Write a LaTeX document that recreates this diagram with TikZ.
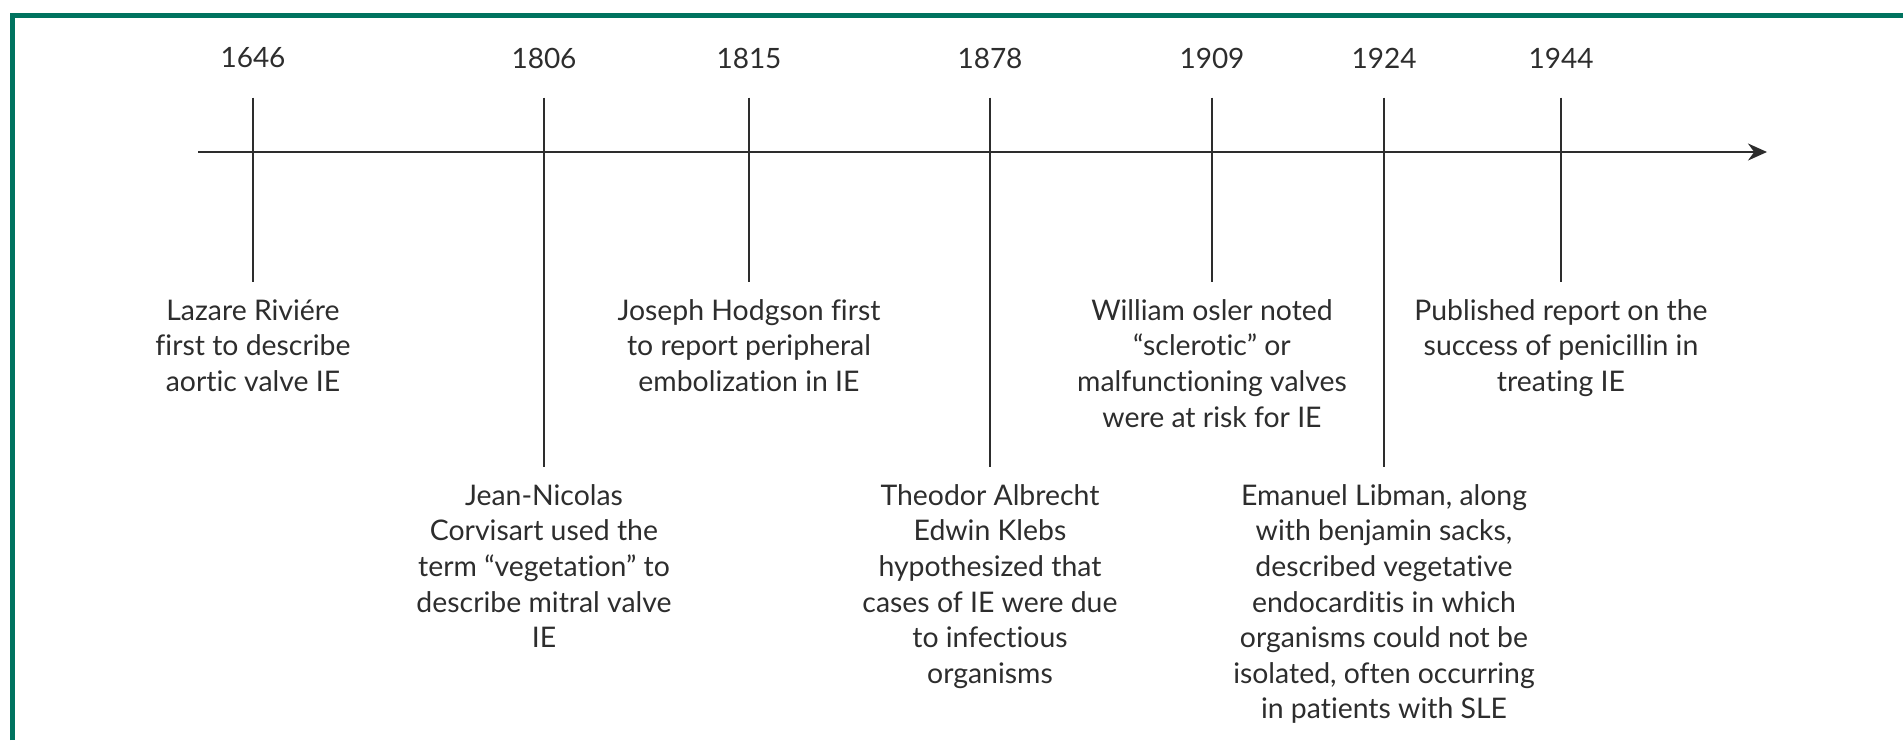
\documentclass[tikz,border=0pt]{standalone}
\usepackage{fontspec}
\setmainfont{Lato}[Ligatures={TeX,NoCommon}]
\usepackage{tikz}
\usetikzlibrary{arrows.meta}
\definecolor{frame}{RGB}{0,115,95}
\definecolor{ink}{RGB}{45,45,45}

\begin{document}
\begin{tikzpicture}[x=0.5pt,y=-0.5pt,>={Stealth[length=9.5pt,width=8.5pt]},
	year/.style={text=ink,inner sep=0pt,font=\fontsize{14}{16.5}\selectfont},
	event/.style={anchor=north,align=center,text=ink,inner xsep=0pt,inner ysep=8.5pt,font=\fontsize{14.2}{17.8}\selectfont},
	tick/.style={draw=ink,line width=1pt,shorten <=14.5pt}]
	\useasboundingbox (0,0) rectangle (1903,740);
	\draw[frame,line width=2.5pt] (12,740)--(12,15)--(1903,15);

	% time axis
	\coordinate (start) at (198,152);
	\coordinate (end) at (1767,152);
	\draw[draw=ink,line width=1pt,->] (start)--(end);

	% years above, events below
	\node[year] (y1646) at (253,58) {1646};
	\node[year] (y1806) at (544,58) {1806};
	\node[year] (y1815) at (749,58) {1815};
	\node[year] (y1878) at (990,58) {1878};
	\node[year] (y1909) at (1212,58) {1909};
	\node[year] (y1924) at (1384,58) {1924};
	\node[year] (y1944) at (1561,58) {1944};

	\node[event] (e1646) at (253,282) {Lazare Riviére\\first to describe\\aortic valve IE};
	\node[event] (e1806) at (544,467) {Jean-Nicolas\\Corvisart used the\\term “vegetation” to\\describe mitral valve\\IE};
	\node[event] (e1815) at (749,282) {Joseph Hodgson first\\to report peripheral\\embolization in IE};
	\node[event] (e1878) at (990,467) {Theodor Albrecht\\Edwin Klebs\\hypothesized that\\cases of IE were due\\to infectious\\organisms};
	\node[event] (e1909) at (1212,282) {William osler noted\\“sclerotic” or\\malfunctioning valves\\were at risk for IE};
	\node[event] (e1924) at (1384,467) {Emanuel Libman, along\\with benjamin sacks,\\described vegetative\\endocarditis in which\\organisms could not be\\isolated, often occurring\\in patients with SLE};
	\node[event] (e1944) at (1561,282) {Published report on the\\success of penicillin in\\treating IE};

	\draw[tick] (y1646)--(e1646);
	\draw[tick] (y1806)--(e1806);
	\draw[tick] (y1815)--(e1815);
	\draw[tick] (y1878)--(e1878);
	\draw[tick] (y1909)--(e1909);
	\draw[tick] (y1924)--(e1924);
	\draw[tick] (y1944)--(e1944);
\end{tikzpicture}
\end{document}
